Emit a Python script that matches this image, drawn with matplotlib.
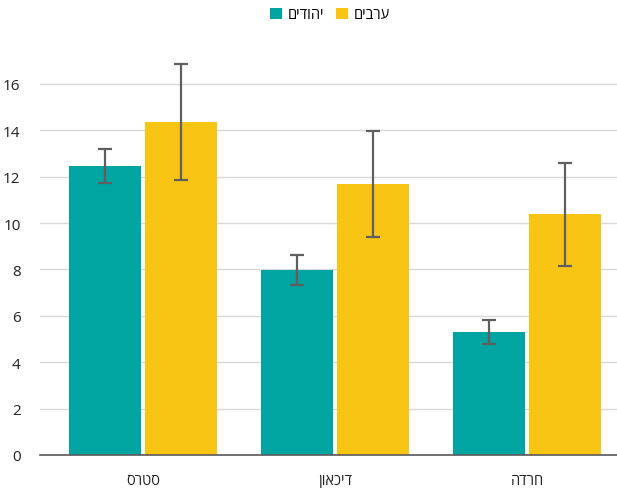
import numpy as np
import matplotlib.pyplot as plt
from matplotlib.patches import Patch

plt.rcParams['font.family'] = ['Open Sans', 'DejaVu Sans']

# data
categories = ['סטרס', 'דיכאון', 'חרדה']
series_names = ['יהודים', 'ערבים']
jews = [12.46, 7.98, 5.30]
jews_err = [0.72, 0.63, 0.50]
arabs = [14.36, 11.69, 10.39]
arabs_err = [2.50, 2.27, 2.22]


def rtl(s):
    # matplotlib has no bidi support, so reverse Hebrew for display
    return s[::-1]


colors = ['#00A4A1', '#F9C515']
err_color = '#5f5f5f'

fig = plt.figure(figsize=(6.17, 4.89), dpi=100)
ax = fig.add_axes([40 / 617, 1 - 456 / 489, 577 / 617, 17.5 * 23.19 / 489])

x = np.arange(len(categories))
width = 0.375
offset = 0.2

for vals, errs, col, xo in [(jews, jews_err, colors[0], -offset),
                            (arabs, arabs_err, colors[1], offset)]:
    ax.bar(x + xo, vals, width=width, color=col, zorder=2)
    ax.errorbar(x + xo, vals, yerr=errs, fmt='none', ecolor=err_color,
                elinewidth=1.6, capsize=4.8, capthick=1.6, zorder=3)

ax.set_xlim(-(143 - 40) / 192, 2 + (617 - 527) / 192)
ax.set_ylim(0, 17.5)
ax.set_yticks(np.arange(0, 17, 2))
ax.set_xticks(x)
ax.set_xticklabels([rtl(c) for c in categories], fontsize=10.5, color='#222222')
ax.tick_params(axis='y', labelsize=11, length=0, pad=14, colors='#222222')
ax.tick_params(axis='x', length=0, pad=13)

ax.grid(True, axis='y', color='#d9d9d9', linewidth=1, zorder=0)
ax.set_axisbelow(True)
for side in ['top', 'right', 'left']:
    ax.spines[side].set_visible(False)
ax.spines['bottom'].set_color('#595959')
ax.spines['bottom'].set_linewidth(1.2)

handles = [Patch(facecolor=colors[0], label=rtl(series_names[0])),
           Patch(facecolor=colors[1], label=rtl(series_names[1]))]
fig.legend(handles=handles, loc='upper center', bbox_to_anchor=(0.535, 1.01),
           ncol=2, frameon=False, fontsize=10.5, handlelength=0.8,
           handleheight=0.8, handletextpad=0.4, columnspacing=0.8)

plt.savefig('out.png', dpi=100)
